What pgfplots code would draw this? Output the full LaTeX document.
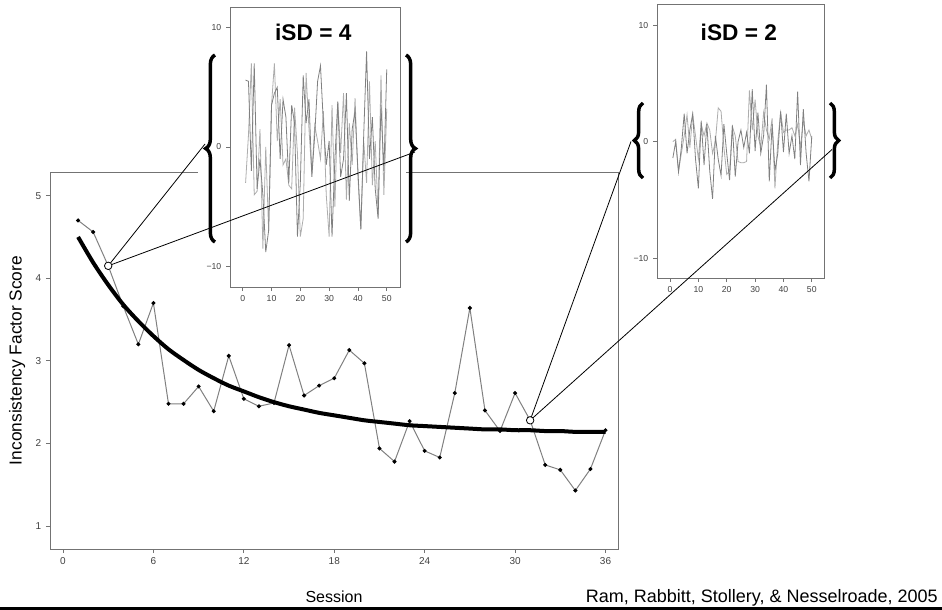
\documentclass[border=0pt]{standalone}
\usepackage{fontspec}
\setmainfont{Liberation Sans}
\usepackage{pgfplots}
\pgfplotsset{compat=1.18}
\usetikzlibrary{decorations.pathreplacing}

\definecolor{frame}{gray}{0.45}
\definecolor{serA}{gray}{0.5}
\definecolor{serB}{gray}{0.68}

\pgfplotsset{
  rframe/.style={
    scale only axis,
    axis line style={frame, line width=0.75pt},
    tick pos=left,
    tick align=outside,
    major tick length=3pt,
    every tick/.style={frame, line width=0.6pt},
    /pgf/number format/assume math mode=true,
    ticklabel style={text=black!75},
  },
}

\begin{document}
\begin{tikzpicture}
\useasboundingbox (0pt,0pt) rectangle (706.5pt,-457.5pt);

% main plot
\begin{axis}[rframe,
  at={(37.5pt,-411.75pt)}, anchor=south west,
  width=426pt, height=282.75pt,
  xmin=-0.863, xmax=36.83, ymin=0.722, ymax=5.286,
  xtick={0,6,...,36}, ytick={1,2,3,4,5},
  ticklabel style={font=\fontsize{7.5}{9}\selectfont},
  xlabel={Session}, ylabel={Inconsistency Factor Score},
  xlabel style={at={(axis description cs:0.5,-0.127)}, anchor=center, font=\fontsize{12}{14}\selectfont},
  ylabel style={at={(axis description cs:-0.058,0.5)}, anchor=center, font=\fontsize{13}{15}\selectfont},
]
\addplot[serA, line width=0.75pt, mark=*, mark size=1.1pt, mark options={black, solid}] coordinates {
  (1,4.70) (2,4.56) (3,4.15) (4,3.66) (5,3.20) (6,3.70) (7,2.48) (8,2.48)
  (9,2.69) (10,2.39) (11,3.06) (12,2.54) (13,2.45) (14,2.49) (15,3.19) (16,2.58)
  (17,2.70) (18,2.79) (19,3.13) (20,2.97) (21,1.94) (22,1.78) (23,2.27) (24,1.91)
  (25,1.83) (26,2.61) (27,3.64) (28,2.40) (29,2.15) (30,2.61) (31,2.28) (32,1.74)
  (33,1.68) (34,1.43) (35,1.69) (36,2.16)
};
\addplot[black, line width=3pt, smooth] coordinates {
  (1,4.50) (2,4.19) (3,3.92) (4,3.68) (5,3.48) (6,3.30) (7,3.14) (8,3.01)
  (9,2.89) (10,2.79) (11,2.70) (12,2.63) (13,2.56) (14,2.50) (15,2.45) (16,2.41)
  (17,2.37) (18,2.34) (19,2.31) (20,2.28) (21,2.26) (22,2.24) (23,2.22) (24,2.21)
  (25,2.20) (26,2.19) (27,2.18) (28,2.17) (29,2.17) (30,2.16) (31,2.16) (32,2.15)
  (33,2.15) (34,2.14) (35,2.14) (36,2.14)
};
\addplot[only marks, mark=*, mark size=2.8pt, mark options={draw=black, fill=white, line width=0.6pt}] coordinates {
  (3,4.15) (31,2.28)
};
\coordinate (c1) at (axis cs:3,4.15);
\coordinate (c2) at (axis cs:31,2.28);
\end{axis}

% white ground behind the first inset
\fill[white] (148.5pt,1pt) rectangle (304.5pt,-216pt);

% inset iSD = 4
\begin{axis}[rframe,
  at={(172.5pt,-215.25pt)}, anchor=south west,
  width=127.5pt, height=210pt,
  axis line style={frame, line width=0.6pt},
  axis background/.style={fill=white},
  xmin=-4.41, xmax=54.6, ymin=-11.72, ymax=11.72,
  xtick={0,10,...,50}, ytick={-10,0,10}, yticklabels={−10,0,10},
  ticklabel style={font=\fontsize{6.5}{8}\selectfont},
]
\addplot[serB, line width=0.6pt] coordinates {
  (1,-3.0) (2,1.0) (3,7.0) (4,-4.0) (5,-3.7) (6,1.5) (7,-8.5) (8,0.0) (9,-7.0) (10,3.5)
  (11,7.0) (12,0.5) (13,4.0) (14,-1.5) (15,-1.0) (16,-3.2) (17,-3.5) (18,3.3) (19,-0.5) (20,-7.5)
  (21,-6.0) (22,6.2) (23,1.5) (24,-2.3) (25,1.8) (26,0.5) (27,-1.0) (28,3.0) (29,-4.0) (30,-7.5)
  (31,3.5) (32,-5.0) (33,3.8) (34,-0.5) (35,4.5) (36,-4.4) (37,2.0) (38,-1.5) (39,4.1) (40,-2.5)
  (41,-6.9) (42,0.5) (43,-3.0) (44,5.5) (45,-3.2) (46,0.5) (47,-5.7) (48,6.0) (49,-4.0) (50,3.2)
};
\addplot[serA, line width=0.6pt] coordinates {
  (1,5.6) (2,5.5) (3,-2.0) (4,7.0) (5,-3.5) (6,-1.0) (7,-4.0) (8,-8.8) (9,-7.0) (10,3.5)
  (11,4.5) (12,5.0) (13,-1.0) (14,4.0) (15,2.5) (16,-3.0) (17,3.5) (18,2.0) (19,-7.5) (20,-3.0)
  (21,6.0) (22,2.0) (23,4.0) (24,-2.5) (25,1.0) (26,5.5) (27,6.8) (28,2.0) (29,-1.5) (30,0.5)
  (31,-7.5) (32,-1.0) (33,3.8) (34,-2.5) (35,-1.0) (36,4.5) (37,-4.5) (38,1.5) (39,3.0) (40,-2.0)
  (41,-6.9) (42,1.0) (43,8.0) (44,-1.0) (45,2.5) (46,-3.5) (47,-6.0) (48,3.5) (49,-2.0) (50,6.5)
};
\node[font=\bfseries\fontsize{17}{20}\selectfont, anchor=base] at (axis description cs:0.49,0.882) {iSD = 4};
\end{axis}

% inset iSD = 2
\begin{axis}[rframe,
  at={(492.75pt,-208.5pt)}, anchor=south west,
  width=125.25pt, height=205pt,
  axis line style={frame, line width=0.6pt},
  axis background/.style={fill=white},
  xmin=-4.59, xmax=54.3, ymin=-11.69, ymax=11.75,
  xtick={0,10,...,50}, ytick={-10,0,10}, yticklabels={−10,0,10},
  ticklabel style={font=\fontsize{6.5}{8}\selectfont},
]
\addplot[serB, line width=0.6pt] coordinates {
  (1,0.0) (2,0.2) (3,-2.5) (4,-1.0) (5,0.5) (6,2.3) (7,-0.5) (8,2.3) (9,0.5) (10,-1.5)
  (11,1.5) (12,0.5) (13,1.6) (14,1.0) (15,-1.0) (16,0.0) (17,2.9) (18,2.6) (19,-0.5) (20,-2.8)
  (21,-2.5) (22,1.3) (23,0.5) (24,-1.7) (25,-1.8) (26,-1.8) (27,-1.7) (28,4.4) (29,1.0) (30,3.6)
  (31,0.5) (32,-0.5) (33,2.5) (34,1.0) (35,0.2) (36,2.0) (37,-4.0) (38,0.0) (39,2.5) (40,0.8)
  (41,1.0) (42,1.0) (43,1.2) (44,0.5) (45,1.5) (46,-0.5) (47,1.8) (48,0.5) (49,1.0) (50,0.2)
};
\addplot[serA, line width=0.6pt] coordinates {
  (1,-1.4) (2,0.0) (3,-2.6) (4,-0.5) (5,2.4) (6,-1.0) (7,1.0) (8,2.4) (9,-1.5) (10,-4.0)
  (11,1.8) (12,-2.0) (13,1.5) (14,-2.5) (15,-4.9) (16,0.5) (17,-1.5) (18,-2.9) (19,1.5) (20,-1.0)
  (21,-3.3) (22,1.4) (23,-3.0) (24,0.0) (25,1.0) (26,-0.5) (27,0.8) (28,-1.0) (29,4.5) (30,-0.8)
  (31,2.5) (32,-1.0) (33,0.5) (34,4.9) (35,-3.4) (36,1.5) (37,-2.5) (38,-1.0) (39,2.6) (40,-0.9)
  (41,2.4) (42,-1.0) (43,0.5) (44,-1.5) (45,4.3) (46,-2.0) (47,2.8) (48,-1.0) (49,-3.4) (50,0.5)
};
\node[font=\bfseries\fontsize{17}{20}\selectfont, anchor=base] at (axis description cs:0.49,0.868) {iSD = 2};
\end{axis}

% braces, connectors, credit line (coordinates in pixels of the reference)
\begin{scope}[x=0.75pt, y=-0.75pt]
  \draw[line width=2.6pt, decorate, decoration={brace, amplitude=7pt}] (215,242) -- (215,55);
  \draw[line width=2.6pt, decorate, decoration={brace, amplitude=7pt}] (406,55) -- (406,242);
  \draw[line width=2.6pt, decorate, decoration={brace, amplitude=6.5pt}] (643,178) -- (643,103);
  \draw[line width=2.6pt, decorate, decoration={brace, amplitude=6.5pt}] (830,103) -- (830,178);
  \draw[black, line width=0.6pt, shorten <=2.8pt] (c1) -- (205,144);
  \draw[black, line width=0.6pt, shorten <=2.8pt] (c1) -- (415,152);
  \draw[black, line width=0.6pt, shorten <=2.8pt] (c2) -- (631,141.5);
  \draw[black, line width=0.6pt, shorten <=2.8pt] (c2) -- (832,149.5);
  \node[anchor=base east, font=\fontsize{13.5}{16}\selectfont, inner sep=0pt] at (938,602.7) {Ram, Rabbitt, Stollery, \& Nesselroade, 2005};
  \fill[black] (0,606.8) rectangle (942,610);
\end{scope}
\end{tikzpicture}
\end{document}
